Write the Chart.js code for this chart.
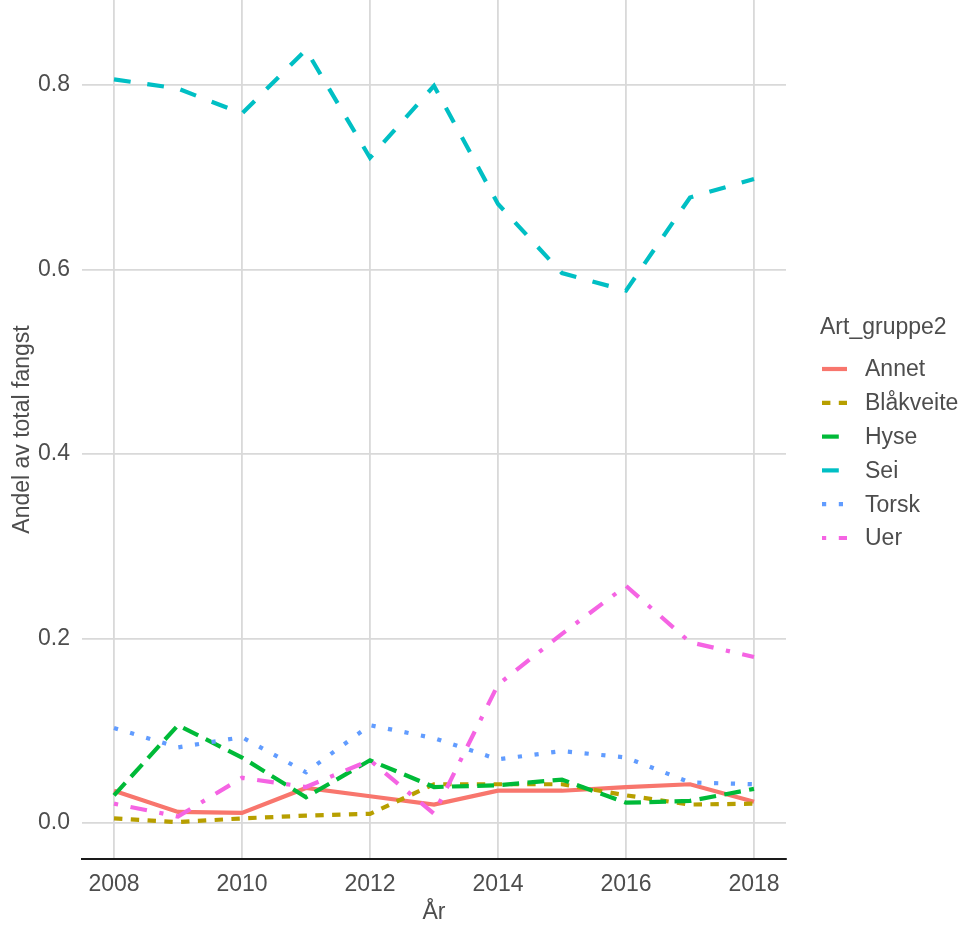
<!DOCTYPE html>
<html lang="no">
  <head>
    <meta charset="UTF-8">
    <title>Andel av total fangst</title>
    <script src="https://cdn.jsdelivr.net/npm/chart.js"></script>
    <style>
      body{margin: 0; background: #fff;}
      #wrap{width: 963px; height: 926px;}
    </style>
  </head>
  <body>
    <div id="wrap">
      <canvas id="myChart" width="963" height="926"></canvas>
    </div>
    <script>
      // data
      const years = [2008, 2009, 2010, 2011, 2012, 2013, 2014, 2015, 2016, 2017, 2018];
      const xTicks = [2008, 2010, 2012, 2014, 2016, 2018];
      const yTicks = [0, 0.2, 0.4, 0.6, 0.8];

      const annet     = [0.035, 0.012, 0.011, 0.038, 0.029, 0.020, 0.035, 0.035, 0.039, 0.042, 0.023];
      const blakveite = [0.005, 0.001, 0.005, 0.008, 0.010, 0.042, 0.042, 0.042, 0.030, 0.020, 0.021];
      const hyse      = [0.030, 0.106, 0.071, 0.028, 0.068, 0.039, 0.041, 0.047, 0.022, 0.024, 0.037];
      const sei       = [0.806, 0.796, 0.769, 0.838, 0.721, 0.799, 0.671, 0.596, 0.577, 0.678, 0.698];
      const torsk     = [0.103, 0.082, 0.093, 0.055, 0.106, 0.092, 0.069, 0.078, 0.071, 0.044, 0.042];
      const uer       = [0.021, 0.007, 0.049, 0.039, 0.068, 0.010, 0.150, 0.205, 0.257, 0.196, 0.180];

      const FONT = '"Liberation Sans", Arial, sans-serif';
      const TXT = '#4d4d4d';
      const LW = 4.2;

      function series(label, values, color, dash, idx){
        return {
          label: label,
          data: years.map((y, i) => ({x: y, y: values[i]})),
          borderColor: color,
          backgroundColor: color,
          borderWidth: LW,
          borderDash: dash,
          pointRadius: 0,
          tension: 0,
          fill: false,
          order: 5 - idx // ggplot draws the last group on top
        };
      }

      const datasets = [
        series('Annet', annet, '#F8766D', [], 0),
        series('Blåkveite', blakveite, '#B79F00', [2*LW, 2*LW], 1),
        series('Hyse', hyse, '#00BA38', [4*LW, 2*LW], 2),
        series('Sei', sei, '#00BFC4', [4*LW, 4*LW], 3),
        series('Torsk', torsk, '#619CFF', [LW, 3*LW], 4),
        series('Uer', uer, '#F564E3', [LW, 3*LW, 4*LW, 3*LW], 5)
      ];

      // legend on the right, drawn by hand
      const sideLegend = {
        id: 'sideLegend',
        afterDraw(chart){
          const ctx = chart.ctx;
          ctx.save();
          ctx.font = '23px ' + FONT;
          ctx.fillStyle = TXT;
          ctx.textAlign = 'left';
          ctx.textBaseline = 'alphabetic';
          ctx.fillText('Art_gruppe2', 820, 334);
          chart.data.datasets.forEach((ds, i) => {
            const y = 369 + i * 33.8;
            ctx.strokeStyle = ds.borderColor;
            ctx.lineWidth = ds.borderWidth;
            ctx.lineCap = 'butt';
            ctx.setLineDash(ds.borderDash);
            ctx.beginPath();
            ctx.moveTo(822, y);
            ctx.lineTo(847, y);
            ctx.stroke();
            ctx.setLineDash([]);
            ctx.fillStyle = TXT;
            ctx.textBaseline = 'middle';
            ctx.fillText(ds.label, 865, y + 1);
          });
          ctx.restore();
        }
      };

      const ctx = document.getElementById('myChart');
      new Chart(ctx, {
        type: 'line',
        data: {datasets: datasets},
        plugins: [sideLegend],
        options: {
          responsive: false,
          animation: false,
          layout: {padding: {top: 0, right: 177, left: 0, bottom: 0}},
          plugins: {
            legend: {display: false},
            tooltip: {enabled: false}
          },
          scales: {
            x: {
              type: 'linear',
              min: 2007.5,
              max: 2018.5,
              afterBuildTicks: (s) => { s.ticks = xTicks.map(v => ({value: v})); },
              afterFit: (s) => { s.height = 67; s.paddingLeft = 0; s.paddingRight = 0; },
              ticks: {
                color: TXT,
                font: {family: FONT, size: 23},
                padding: 12,
                maxRotation: 0,
                autoSkip: false,
                callback: (v) => String(v)
              },
              grid: {color: '#d9d9d9', lineWidth: 1.8, drawTicks: false},
              border: {display: true, color: '#1a1a1a', width: 2},
              title: {
                display: true,
                text: 'År',
                color: TXT,
                font: {family: FONT, size: 23},
                padding: {top: 0, bottom: 0}
              }
            },
            y: {
              min: -0.039,
              max: 0.892,
              afterBuildTicks: (s) => { s.ticks = yTicks.map(v => ({value: v})); },
              afterFit: (s) => { s.width = 82; s.paddingTop = 0; s.paddingBottom = 0; },
              ticks: {
                color: TXT,
                font: {family: FONT, size: 23},
                padding: 12,
                callback: (v) => v.toFixed(1)
              },
              grid: {color: '#d9d9d9', lineWidth: 1.8, drawTicks: false},
              border: {display: false},
              title: {
                display: true,
                text: 'Andel av total fangst',
                color: TXT,
                font: {family: FONT, size: 23},
                padding: {top: 9, bottom: 0}
              }
            }
          }
        }
      });
    </script>
  </body>
</html>
